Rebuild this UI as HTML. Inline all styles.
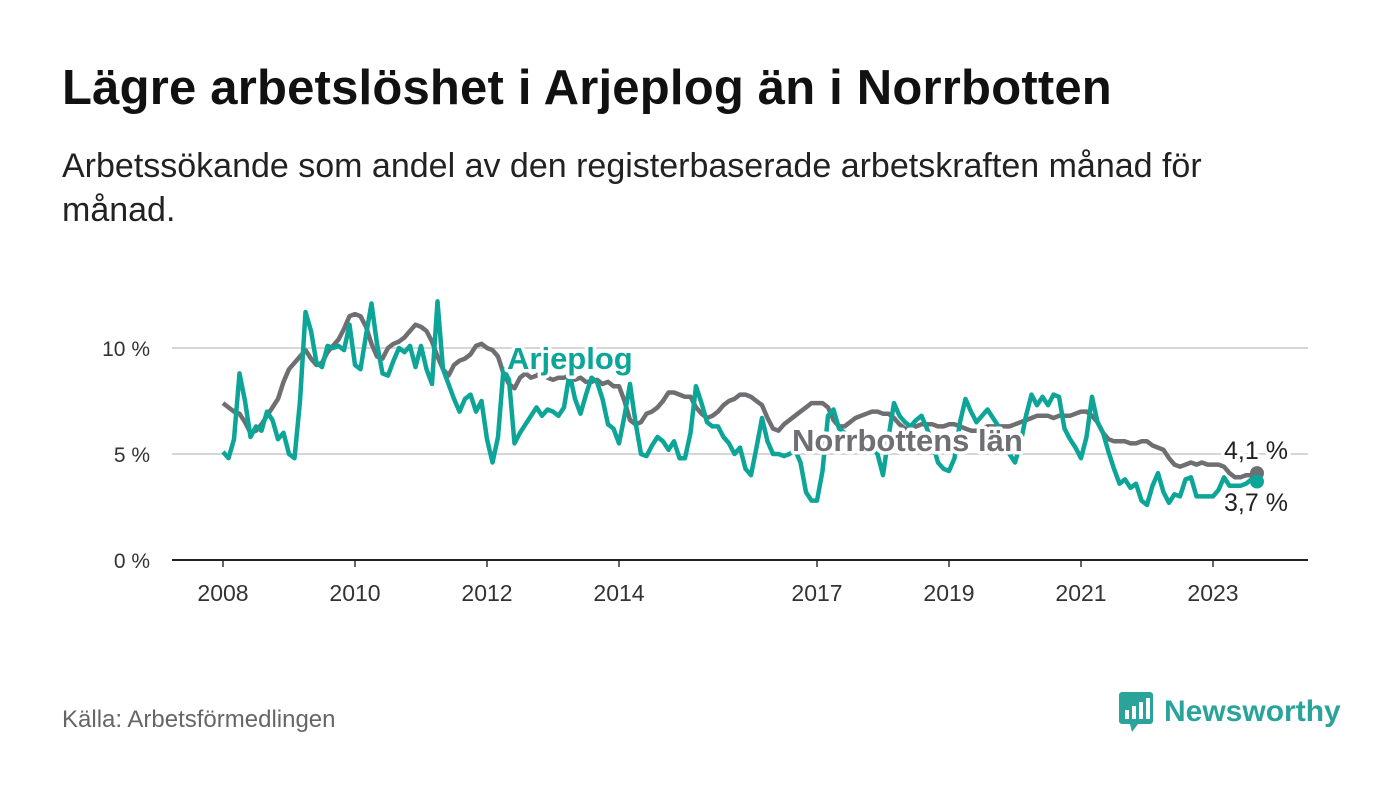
<!DOCTYPE html>
<html><head><meta charset="utf-8"><style>
body{margin:0;width:1400px;height:794px;background:#fff;font-family:"Liberation Sans",sans-serif;overflow:hidden;position:relative}
#title{position:absolute;left:62px;top:60px;font-size:49px;font-weight:bold;color:#111;margin:0;letter-spacing:0.2px}
#sub{position:absolute;left:62px;top:144px;font-size:34px;color:#222;line-height:44px;width:1190px;margin:0}
#src{position:absolute;left:62px;top:706px;font-size:24px;color:#666}
#logo{position:absolute;left:1118px;top:690px;display:flex;align-items:center}
svg text{font-family:"Liberation Sans",sans-serif}
</style></head><body>
<h1 id="title">Lägre arbetslöshet i Arjeplog än i Norrbotten</h1>
<p id="sub">Arbetssökande som andel av den registerbaserade arbetskraften månad för månad.</p>
<div id="src">Källa: Arbetsförmedlingen</div>
<div id="logo">
<svg width="40" height="44" viewBox="0 0 40 44"><rect x="1" y="2" width="34" height="32" rx="3" fill="#2aa39a"/><polygon points="12,34 20,34 14,42" fill="#2aa39a"/><rect x="7" y="20" width="4" height="9" fill="#fff"/><rect x="14" y="16" width="4" height="13" fill="#fff"/><rect x="21" y="12" width="4" height="17" fill="#fff"/><rect x="28" y="8" width="4" height="21" fill="#fff"/></svg>
<span style="font-size:30px;font-weight:bold;color:#2aa39a;margin-left:6px">Newsworthy</span>
</div>
<svg id="chart" width="1400" height="794" style="position:absolute;left:0;top:0"></svg>
<script>
const startYear = 2008;
const yTicks = [0, 5, 10];
const yTickLabels = ["0 %", "5 %", "10 %"];
const xTickYears = [2008, 2010, 2012, 2014, 2017, 2019, 2021, 2023];
const norrbotten = [
7.4,7.2,7.0,6.9,6.5,6.0,6.1,6.4,6.8,7.2,7.6,8.4,
9.0,9.3,9.6,9.9,9.5,9.2,9.3,9.8,10.1,10.4,10.9,11.5,
11.6,11.5,11.0,10.2,9.6,9.5,10.0,10.2,10.3,10.5,10.8,11.1,
11.0,10.8,10.3,9.6,9.0,8.7,9.2,9.4,9.5,9.7,10.1,10.2,
10.0,9.9,9.6,8.8,8.3,8.1,8.6,8.8,8.6,8.7,8.9,8.6,
8.5,8.6,8.6,8.7,8.5,8.6,8.4,8.4,8.5,8.3,8.4,8.2,
8.2,7.5,6.6,6.4,6.5,6.9,7.0,7.2,7.5,7.9,7.9,7.8,
7.7,7.7,7.2,6.9,6.7,6.8,7.0,7.3,7.5,7.6,7.8,7.8,
7.7,7.5,7.3,6.7,6.2,6.1,6.4,6.6,6.8,7.0,7.2,7.4,
7.4,7.4,7.2,6.6,6.3,6.3,6.5,6.7,6.8,6.9,7.0,7.0,
6.9,6.9,6.7,6.4,6.2,6.2,6.3,6.4,6.4,6.4,6.3,6.3,
6.4,6.4,6.3,6.2,6.1,6.1,6.2,6.3,6.3,6.3,6.3,6.3,
6.4,6.5,6.6,6.7,6.8,6.8,6.8,6.7,6.8,6.8,6.8,6.9,
7.0,7.0,6.8,6.5,6.0,5.7,5.6,5.6,5.6,5.5,5.5,5.6,
5.6,5.4,5.3,5.2,4.8,4.5,4.4,4.5,4.6,4.5,4.6,4.5,
4.5,4.5,4.4,4.1,3.9,3.9,4.0,4.0,4.1];
const arjeplog = [
5.1,4.8,5.7,8.8,7.5,5.8,6.3,6.1,7.0,6.6,5.7,6.0,
5.0,4.8,7.5,11.7,10.8,9.3,9.1,10.1,10.0,10.1,9.9,11.1,
9.2,9.0,10.6,12.1,10.2,8.8,8.7,9.4,10.0,9.8,10.1,9.1,
10.1,9.0,8.3,12.2,9.0,8.3,7.6,7.0,7.6,7.8,7.0,7.5,
5.7,4.6,5.8,9.0,8.5,5.5,6.0,6.4,6.8,7.2,6.8,7.1,
7.0,6.8,7.2,8.8,7.6,6.9,7.8,8.6,8.4,7.6,6.4,6.2,
5.5,6.8,8.3,6.5,5.0,4.9,5.4,5.8,5.6,5.2,5.6,4.8,
4.8,6.0,8.2,7.4,6.5,6.3,6.3,5.8,5.5,5.0,5.3,4.3,
4.0,5.3,6.7,5.6,5.0,5.0,4.9,5.0,5.2,4.6,3.2,2.8,
2.8,4.2,6.8,7.1,6.2,6.0,5.6,5.8,5.5,5.8,5.4,5.0,
4.0,5.8,7.4,6.8,6.5,6.3,6.6,6.8,6.2,5.5,4.6,4.3,
4.2,4.8,6.5,7.6,7.0,6.5,6.8,7.1,6.7,6.3,5.6,5.0,
4.6,5.5,6.8,7.8,7.3,7.7,7.3,7.8,7.7,6.2,5.7,5.3,
4.8,5.8,7.7,6.5,6.0,5.1,4.3,3.6,3.8,3.4,3.6,2.8,
2.6,3.5,4.1,3.2,2.7,3.1,3.0,3.8,3.9,3.0,3.0,3.0,
3.0,3.3,3.9,3.5,3.5,3.5,3.6,3.8,3.7];

const NS = "http://www.w3.org/2000/svg";
const svg = document.getElementById("chart");
const x = i => 223 + 5.5 * i;
const xYear = yr => x((yr - startYear) * 12);
const y = v => 560 - 21.2 * v;
function mk(tag, attrs, parent) {
  const e = document.createElementNS(NS, tag);
  for (const k in attrs) e.setAttribute(k, attrs[k]);
  (parent || svg).appendChild(e);
  return e;
}
yTicks.forEach((t, k) => {
  if (t > 0) {
    const g = mk("line", {x1: 172, x2: 1308, y1: y(t), y2: y(t), stroke: "#d6d6d6", "stroke-width": 2});
    
    
  }
  const tl = mk("text", {x: 150, y: y(t) + 8, "text-anchor": "end", "font-size": 21, fill: "#333"});
  tl.textContent = yTickLabels[k];
  
  
});
xTickYears.forEach(yr => {
  const tk = mk("line", {x1: xYear(yr), x2: xYear(yr), y1: 560, y2: 567, stroke: "#333", "stroke-width": 1.5});
  
  
  const tl = mk("text", {x: xYear(yr), y: 601, "text-anchor": "middle", "font-size": 23, fill: "#333"});
  tl.textContent = yr;
  
  
});
const axis = mk("line", {x1: 172, x2: 1308, y1: 560, y2: 560, stroke: "#222", "stroke-width": 2});



function path(arr) { return arr.map((v, i) => (i ? "L" : "M") + x(i).toFixed(1) + "," + y(v).toFixed(1)).join(""); }
const gl = mk("path", {d: path(norrbotten), fill: "none", stroke: "#6f6e72", "stroke-width": 4.5, "stroke-linejoin": "round"});


const tlp = mk("path", {d: path(arjeplog), fill: "none", stroke: "#0ca598", "stroke-width": 4.5, "stroke-linejoin": "round"});



const nl = norrbotten.length - 1, al = arjeplog.length - 1;
const d1 = mk("circle", {cx: x(nl), cy: y(norrbotten[nl]), r: 7, fill: "#6f6e72"});


const d2 = mk("circle", {cx: x(al), cy: y(arjeplog[al]), r: 7, fill: "#0ca598"});



function label(txt, lx, ly, color, size, bold, name, anchor) {
  const t = mk("text", {x: lx, y: ly, "font-size": size, fill: color, "font-weight": bold ? "bold" : "normal",
    stroke: "#fff", "stroke-width": 7, "paint-order": "stroke", "stroke-linejoin": "round", "text-anchor": anchor || "start"});
  t.textContent = txt;
  
  
}
label("Arjeplog", 507, 369, "#0ca598", 31, true, "arjeplog-label");
label("Norrbottens län", 792, 451, "#6f6e72", 31, true, "norrbotten-label");
label(String(norrbotten[nl]).replace(".", ",") + " %", 1224, 459, "#222", 25, false, "norrbotten-end-value");
label(String(arjeplog[al]).replace(".", ",") + " %", 1224, 511, "#222", 25, false, "arjeplog-end-value");
</script>
</body></html>
